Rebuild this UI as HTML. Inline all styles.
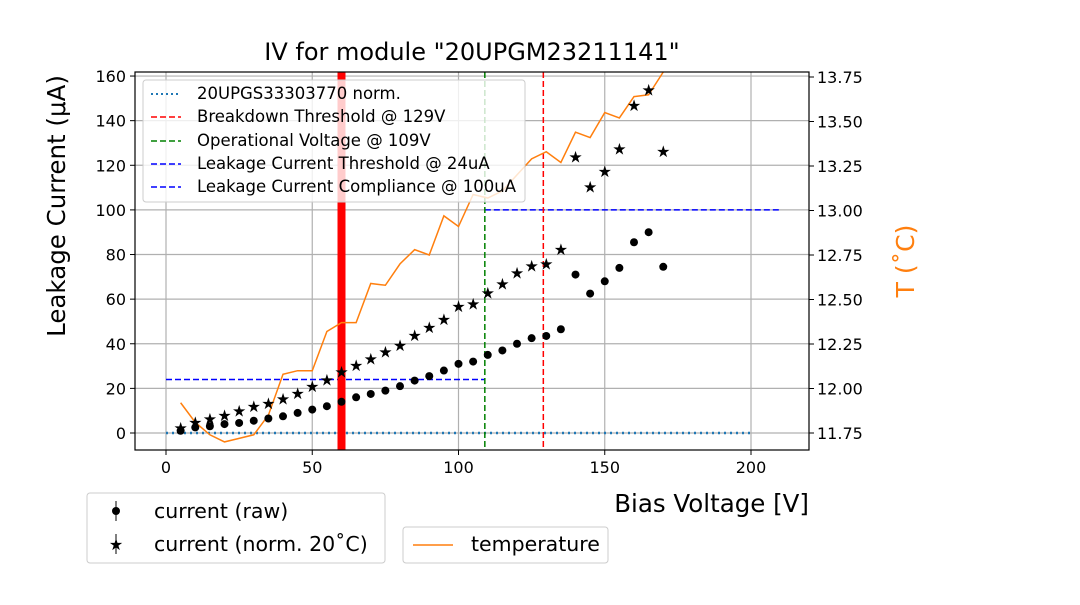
<!DOCTYPE html>
<html><head><meta charset="utf-8"><style>
body{margin:0;background:#fff;}
svg{font-family:"DejaVu Sans","Liberation Sans",sans-serif;}
</style></head><body>
<svg id="chart" width="1080" height="600" xmlns="http://www.w3.org/2000/svg">
<g id="grid"></g>
<g id="refs"></g>
<g id="marks"></g>
<g id="axes"></g>
<text x="472" y="60" font-size="24" text-anchor="middle">IV for module "20UPGM23211141"</text>
<text transform="translate(65,206) rotate(-90)" font-size="24.5" text-anchor="middle">Leakage Current (μA)</text>
<text transform="translate(914,261) rotate(-90)" font-size="25" text-anchor="middle" fill="#ff7f0e">T (˚C)</text>
<text x="809" y="512" font-size="24.5" text-anchor="end">Bias Voltage [V]</text>
<g>
<rect x="143" y="80" width="382" height="122" rx="3" fill="#fff" fill-opacity="0.8" stroke="#ccc"/>
<line x1="151" y1="94" x2="181" y2="94" stroke="#1f77b4" stroke-width="2" stroke-dasharray="2,3"/><text x="197" y="99" font-size="16.5">20UPGS33303770 norm.</text>
<line x1="151" y1="117" x2="181" y2="117" stroke="red" stroke-width="1.5" stroke-dasharray="6,3"/><text x="197" y="122" font-size="16.5">Breakdown Threshold @ 129V</text>
<line x1="151" y1="141" x2="181" y2="141" stroke="green" stroke-width="1.5" stroke-dasharray="6,3"/><text x="197" y="146" font-size="16.5">Operational Voltage @ 109V</text>
<line x1="151" y1="164" x2="181" y2="164" stroke="blue" stroke-width="1.5" stroke-dasharray="6,3"/><text x="197" y="169" font-size="16.5">Leakage Current Threshold @ 24uA</text>
<line x1="151" y1="187" x2="181" y2="187" stroke="blue" stroke-width="1.5" stroke-dasharray="6,3"/><text x="197" y="192" font-size="16.5">Leakage Current Compliance @ 100uA</text>
</g>
<g>
<rect x="87" y="493" width="298" height="70" rx="3" fill="#fff" stroke="#ccc"/>
<line x1="116" y1="501" x2="116" y2="521" stroke="#000"/><circle cx="116" cy="511" r="4"/><text x="154" y="518" font-size="20.5">current (raw)</text>
<line x1="116" y1="534" x2="116" y2="554" stroke="#000"/><text x="116" y="550" font-size="16" text-anchor="middle">★</text><text x="154" y="551" font-size="20.5">current (norm. 20˚C)</text>
</g>
<g>
<rect x="403" y="527" width="205" height="36" rx="3" fill="#fff" stroke="#ccc"/>
<line x1="413" y1="545" x2="453" y2="545" stroke="#ff7f0e" stroke-width="1.5"/><text x="471" y="551" font-size="20.5">temperature</text>
</g>
</svg>
<script>
const voltages=[5,10,15,20,25,30,35,40,45,50,55,60,65,70,75,80,85,90,95,100,105,110,115,120,125,130,135,140,145,150,155,160,165,170];
const rawCurrent=[1,2.5,3,4,4.5,5.5,6.5,7.5,9,10.5,12,14,16,17.5,19,21,23.5,25.5,28,31,32,35,37,40,42.5,43.5,46.5,71,62.5,68,74,85.5,90,74.5];
const normCurrent=[2.5,5,6.5,8,10,12,13.5,15.5,18,21,24,27.5,30.5,33.5,36.5,39.5,44,47.5,51,57,58,63,67,72,75,76,82.5,124,110.5,117.5,127.5,147,154,126.5];
const temperature=[11.92,11.81,11.74,11.70,11.72,11.74,11.85,12.08,12.10,12.10,12.32,12.37,12.37,12.59,12.58,12.70,12.78,12.75,12.97,12.91,13.09,13.07,13.11,13.20,13.29,13.33,13.27,13.44,13.41,13.55,13.52,13.64,13.65,13.78];
const xTicks=[0,50,100,150,200];
const yTicks=[0,20,40,60,80,100,120,140,160];
const y2Ticks=[11.75,12.00,12.25,12.50,12.75,13.00,13.25,13.50,13.75];
const breakdownV=129, operationalV=109, thresholdI=24, complianceI=100, markerV=60;
const L=135,R=809,T=72,B=450;
const sx=v=>166+v*2.925;
const sy=i=>433-i*2.231;
const sy2=t=>433-(t-11.75)*178;
const NS="http://www.w3.org/2000/svg";
function mk(tag,attrs,parent){const e=document.createElementNS(NS,tag);for(const k in attrs)e.setAttribute(k,attrs[k]);parent.appendChild(e);return e;}
const grid=document.getElementById('grid'),axes=document.getElementById('axes'),refs=document.getElementById('refs'),marks=document.getElementById('marks');
xTicks.forEach(v=>{const l=mk('line',{x1:sx(v),x2:sx(v),y1:T,y2:B,stroke:'#b0b0b0','stroke-width':1.2},grid);

mk('line',{x1:sx(v),x2:sx(v),y1:B,y2:B+5,stroke:'#000'},axes);
const t=mk('text',{x:sx(v),y:B+23,'font-size':16,'text-anchor':'middle'},axes);t.textContent=v;
});
yTicks.forEach(v=>{const l=mk('line',{x1:L,x2:R,y1:sy(v),y2:sy(v),stroke:'#b0b0b0','stroke-width':1.2},grid);

mk('line',{x1:L-5,x2:L,y1:sy(v),y2:sy(v),stroke:'#000'},axes);
const t=mk('text',{x:L-9,y:sy(v)+6,'font-size':16,'text-anchor':'end'},axes);t.textContent=v;
});
y2Ticks.forEach(v=>{mk('line',{x1:R,x2:R+5,y1:sy2(v),y2:sy2(v),stroke:'#000'},axes);
const t=mk('text',{x:R+8,y:sy2(v)+6,'font-size':16},axes);t.textContent=v.toFixed(2);
});
const frame=mk('rect',{x:L,y:T,width:R-L,height:B-T,fill:'none',stroke:'#000','stroke-width':1.2},axes);

let e;
e=mk('line',{x1:sx(0),x2:sx(200),y1:sy(0),y2:sy(0),stroke:'#1f77b4','stroke-width':2.5,'stroke-dasharray':'2,4'},refs);

e=mk('line',{x1:sx(0),x2:sx(operationalV),y1:sy(thresholdI),y2:sy(thresholdI),stroke:'blue','stroke-width':1.5,'stroke-dasharray':'6,3'},refs);

e=mk('line',{x1:sx(operationalV),x2:sx(210),y1:sy(complianceI),y2:sy(complianceI),stroke:'blue','stroke-width':1.5,'stroke-dasharray':'6,3'},refs);

e=mk('line',{x1:sx(breakdownV),x2:sx(breakdownV),y1:T,y2:B,stroke:'red','stroke-width':1.5,'stroke-dasharray':'6,3'},refs);

e=mk('line',{x1:sx(operationalV),x2:sx(operationalV),y1:T,y2:B,stroke:'green','stroke-width':1.5,'stroke-dasharray':'6,3'},refs);

e=mk('line',{x1:sx(markerV),x2:sx(markerV),y1:T,y2:B,stroke:'red','stroke-width':8},refs);

const pts=voltages.map((v,i)=>sx(v)+','+Math.max(T,sy2(temperature[i]))).join(' ');
e=mk('polyline',{points:pts,fill:'none',stroke:'#ff7f0e','stroke-width':1.5},marks);

voltages.forEach((v,i)=>{
const c=mk('circle',{cx:sx(v),cy:sy(rawCurrent[i]),r:4,fill:'#000'},marks);

const s=mk('text',{x:sx(v),y:sy(normCurrent[i])+6,'font-size':16,'text-anchor':'middle'},marks);s.textContent='★';

});
</script>
</body></html>
